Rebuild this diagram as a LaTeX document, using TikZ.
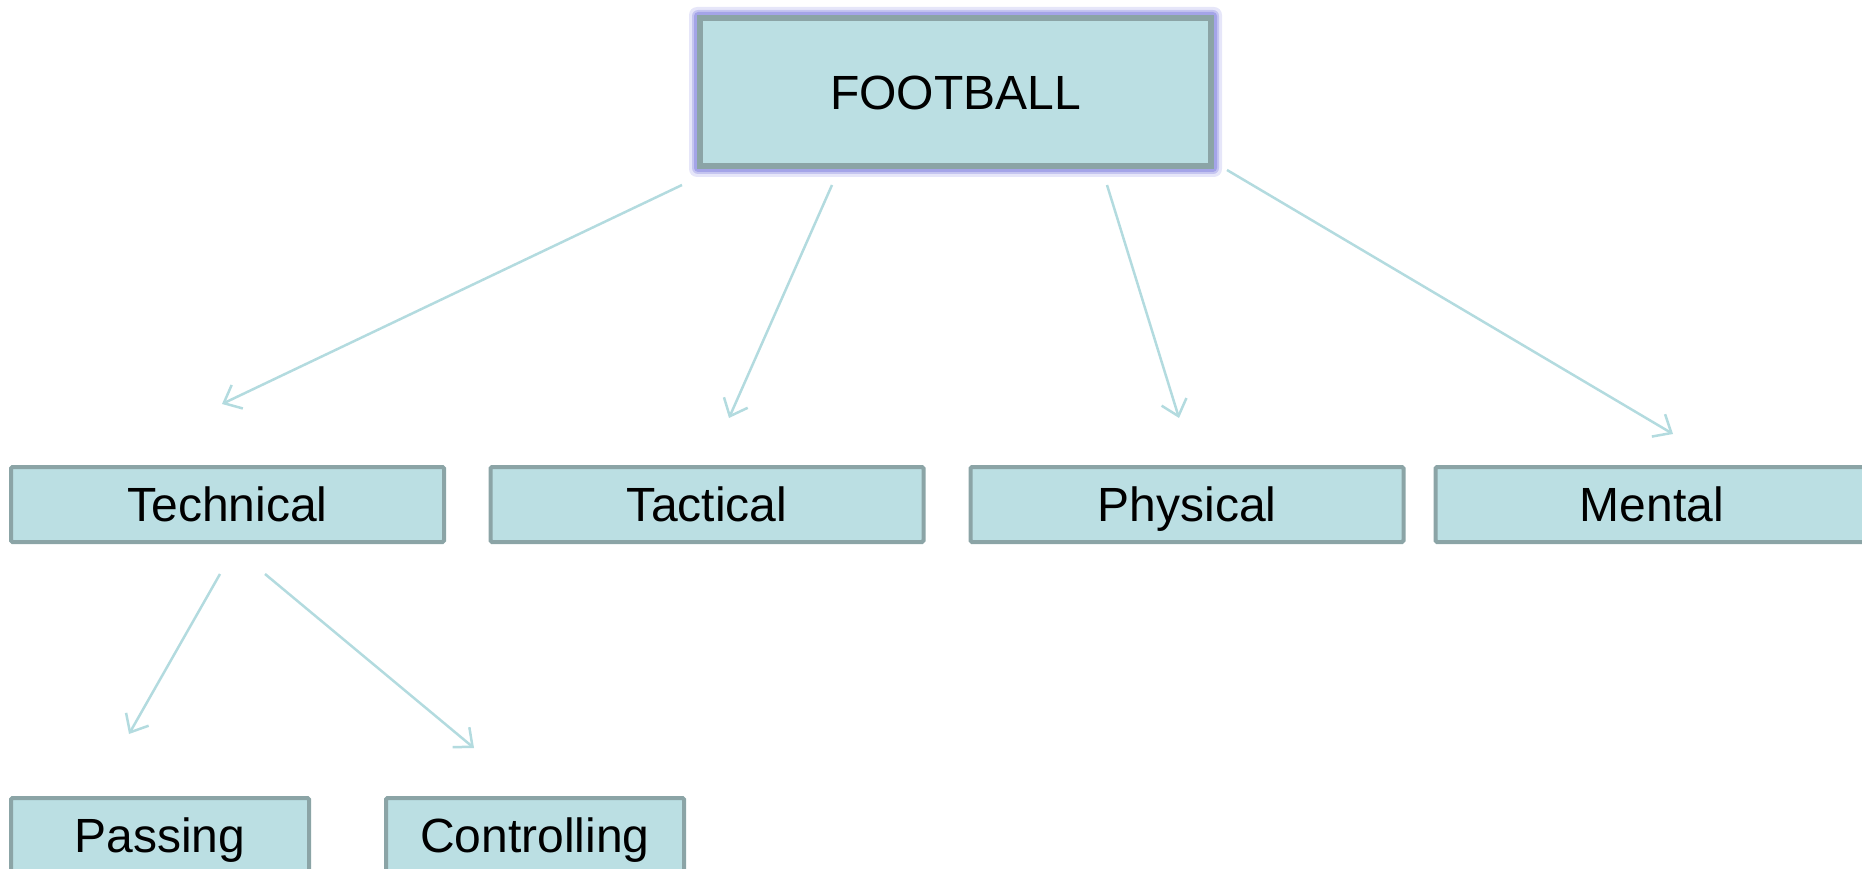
\documentclass[tikz,border=0pt]{standalone}
\usepackage{fontspec}
\setmainfont{Liberation Sans}
\usetikzlibrary{arrows.meta,calc}
\definecolor{boxfill}{HTML}{BBDFE3}
\definecolor{boxline}{HTML}{8BA4A6}
\definecolor{arrcol}{HTML}{B3DBDF}
\definecolor{glow}{HTML}{9C9CE6}
\tikzset{
  catbox/.style={draw=boxline, fill=boxfill, line width=4pt, inner sep=0pt,
    minimum width=433pt, minimum height=75pt, rounded corners=1.5pt,
    font=\fontsize{48}{54}\selectfont, text height=34.4pt, text depth=0pt},
  leafbox/.style={catbox, minimum width=298pt},
  topbox/.style={draw=boxline, fill=boxfill, line width=6pt, inner sep=0pt,
    minimum width=511pt, minimum height=148pt,
    font=\fontsize{48}{54}\selectfont, text height=34.4pt, text depth=0pt},
  arr/.style={draw=arrcol, line width=2.5pt, -{Straight Barb[length=15pt,width=26pt,line width=2.5pt]}}
}
\begin{document}
\begin{tikzpicture}[x=1pt,y=-1pt]
\useasboundingbox (0,0) rectangle (1862,869);
\clip (0,0) rectangle (1862,869);
% glow behind the top box
\fill[glow, opacity=0.25, rounded corners=8pt] (689,7) rectangle (1222,177);
\fill[glow, opacity=0.45, rounded corners=6pt] (692,10) rectangle (1219,174);
\fill[glow, opacity=0.8, rounded corners=4pt] (694,12) rectangle (1217,172);
\node[topbox] (football) at (955.5,92) {FOOTBALL};
\node[catbox] (technical) at (227.5,504.5) {Technical};
\node[catbox] (tactical) at (707,504.5) {Tactical};
\node[catbox] (physical) at (1187,504.5) {Physical};
\node[catbox] (mental) at (1652,504.5) {Mental};
\node[leafbox] (passing) at (160,835.5) {Passing};
\node[leafbox] (controlling) at (535,835.5) {Controlling};
\draw[arr] ([shift={(-15,16)}]football.south west) -- ([shift={(-5.5,-61)}]technical.north);
\draw[arr] ([shift={(135,16)}]football.south west) -- ([shift={(22,-47)}]tactical.north);
\draw[arr] ([shift={(-107,16)}]football.south east) -- ([shift={(-8,-47)}]physical.north);
\draw[arr] ([shift={(13,1)}]football.south east) -- ([shift={(21,-31)}]mental.north);
\draw[arr] ([shift={(-7.5,30)}]technical.south) -- ([shift={(-31,-62)}]passing.north);
\draw[arr] ([shift={(37.5,30)}]technical.south) -- ([shift={(-61,-48)}]controlling.north);
\end{tikzpicture}
\end{document}
